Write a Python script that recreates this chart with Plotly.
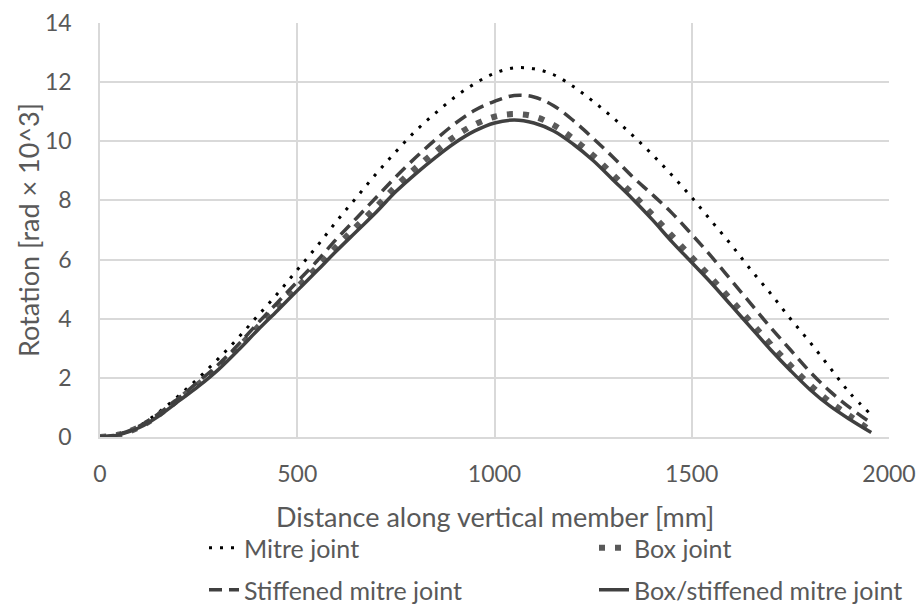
import plotly.graph_objects as go

distance = [0, 50, 100, 150, 200, 250, 300, 350, 400, 450, 500, 550, 600, 650, 700, 750, 800,
            850, 900, 950, 1000, 1050, 1100, 1150, 1200, 1250, 1300, 1350, 1400, 1450, 1500,
            1550, 1600, 1650, 1700, 1750, 1800, 1850, 1900, 1955]

mitre = [0, 0.1, 0.38, 0.85, 1.4, 2.0, 2.65, 3.35, 4.1, 4.85, 5.65, 6.45, 7.3, 8.1, 8.9, 9.65,
         10.35, 10.95, 11.5, 11.95, 12.3, 12.48, 12.45, 12.25, 11.85, 11.35, 10.8, 10.2, 9.55,
         8.85, 8.1, 7.3, 6.5, 5.65, 4.85, 4.0, 3.2, 2.35, 1.5, 0.75]

box = [0, 0.09, 0.34, 0.76, 1.28, 1.8, 2.36, 3.02, 3.72, 4.4, 5.07, 5.74, 6.45, 7.12, 7.78,
       8.48, 9.1, 9.65, 10.17, 10.57, 10.83, 10.92, 10.84, 10.55, 10.08, 9.52, 8.87, 8.22,
       7.52, 6.8, 6.08, 5.37, 4.63, 3.88, 3.14, 2.42, 1.76, 1.19, 0.72, 0.2]

stiffened = [0, 0.1, 0.37, 0.8, 1.32, 1.88, 2.45, 3.12, 3.85, 4.55, 5.25, 5.95, 6.7, 7.4,
             8.1, 8.8, 9.45, 10.05, 10.6, 11.05, 11.35, 11.55, 11.5, 11.2, 10.7, 10.1, 9.47,
             8.8, 8.2, 7.57, 6.85, 6.1, 5.3, 4.5, 3.7, 2.95, 2.2, 1.55, 1.0, 0.47]

box_stiffened = [0, 0.08, 0.32, 0.72, 1.22, 1.72, 2.28, 2.93, 3.62, 4.28, 4.95, 5.62, 6.3,
                 6.95, 7.6, 8.3, 8.9, 9.45, 9.95, 10.35, 10.62, 10.72, 10.62, 10.35, 9.9, 9.35,
                 8.7, 8.05, 7.35, 6.6, 5.9, 5.2, 4.45, 3.7, 2.95, 2.25, 1.6, 1.05, 0.6, 0.15]

x_ticks = [0, 500, 1000, 1500, 2000]
y_ticks = [0, 2, 4, 6, 8, 10, 12, 14]

x_title = "Distance along vertical member [mm]"
y_title = "Rotation [rad × 10^3]"

series = [
    ("Mitre joint", mitre, dict(color="#000000", width=3, dash="3px,8px"), "legend"),
    ("Box joint", box, dict(color="#595959", width=6, dash="6px,10px"), "legend2"),
    ("Stiffened mitre joint", stiffened, dict(color="#404040", width=3.5, dash="13px,7px"), "legend3"),
    ("Box/stiffened mitre joint", box_stiffened, dict(color="#404040", width=3.5), "legend4"),
]

fig = go.Figure()
for name, vals, line, lg in series:
    fig.add_trace(go.Scatter(x=distance, y=vals, mode="lines", name=name, legend=lg,
                             line=dict(shape="spline", **line)))

font_main = "Lato, Open Sans, sans-serif"
W, H = 918, 606


def leg(px, py):
    return dict(xref="container", yref="container", x=px / W, y=1 - py / H,
                xanchor="left", yanchor="middle", font=dict(size=25, color="#595959"),
                bgcolor="rgba(0,0,0,0)", borderwidth=0)


fig.update_layout(
    width=W, height=H,
    margin=dict(l=100, r=29, t=23, b=169, autoexpand=False),
    paper_bgcolor="white", plot_bgcolor="white",
    font=dict(family=font_main, color="#595959", size=23),
    xaxis=dict(range=[0, 2000], tickvals=x_ticks, showgrid=True, gridcolor="#d9d9d9",
               gridwidth=1.5, zeroline=False, showline=True, linecolor="#d9d9d9",
               linewidth=1.5, ticks="", tickfont=dict(size=23), ticklabelstandoff=16),
    yaxis=dict(range=[0, 14], tickvals=y_ticks, showgrid=True, gridcolor="#d9d9d9",
               gridwidth=1.5, zeroline=False, showline=True, linecolor="#d9d9d9",
               linewidth=1.5, ticks="", tickfont=dict(size=23), ticklabelstandoff=22),
    legend=leg(204, 548),
    legend2=leg(594, 548),
    legend3=leg(204, 590),
    legend4=leg(594, 590),
    showlegend=True,
)

fig.add_annotation(text=x_title, xref="paper", yref="paper", x=0.5, y=(437 - 516) / 414,
                   xanchor="center", yanchor="middle", showarrow=False,
                   font=dict(size=27, color="#595959"))
fig.add_annotation(text=y_title, xref="paper", yref="paper", x=(28 - 100) / 789, y=0.5,
                   xanchor="center", yanchor="middle", showarrow=False, textangle=-90,
                   font=dict(size=27, color="#595959"))

fig.write_html("out.html")
